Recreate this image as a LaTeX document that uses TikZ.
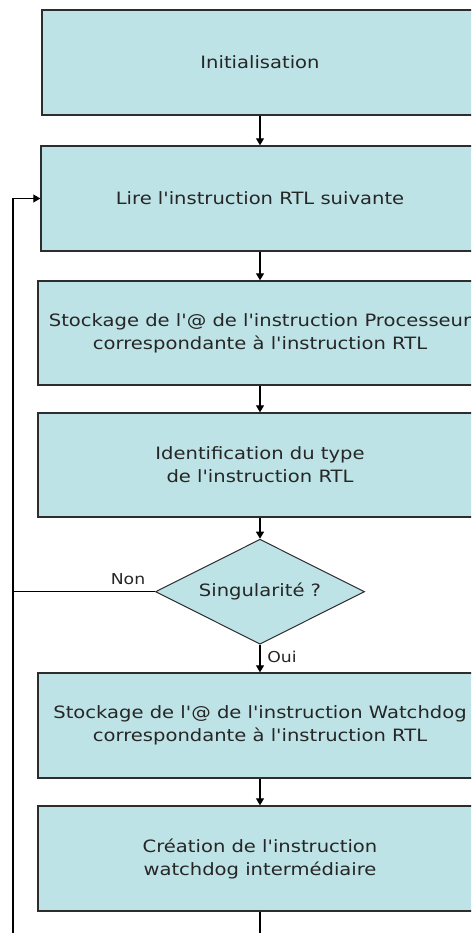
\documentclass[tikz,border=0pt]{standalone}
\usepackage{fontspec}
\setmainfont{DejaVu Sans}[FakeStretch=1.15,Ligatures=TeXOff]
\usetikzlibrary{shapes.geometric,arrows.meta}
\definecolor{boxfill}{RGB}{190,227,230}
\definecolor{boxline}{RGB}{45,45,45}
\begin{document}
\begin{tikzpicture}[x=1pt,y=-1pt,
  font=\fontsize{17}{23}\selectfont,
  stepbox/.style={draw=boxline,line width=1.4pt,fill=boxfill,rectangle,
    minimum height=105pt,inner sep=0pt,align=center,text=black!85},
  decision/.style={draw=boxline,line width=1pt,fill=boxfill,diamond,aspect=2,
    minimum width=209pt,minimum height=105pt,inner sep=0pt,text=black!85},
  conn/.style={line width=1.2pt,draw=black},
  arr/.style={conn,-{Triangle[width=8pt,length=7pt]}},
  lbl/.style={font=\fontsize{15}{18}\selectfont,text=black!85,inner sep=0pt}]
\useasboundingbox (0,0) rectangle (471,933);
\fill[white] (0,0) rectangle (471,933);
\begin{scope}
\clip (0,0) rectangle (471,933);
\node[stepbox,minimum width=436pt] (b1) at (260,62.5) {Initialisation};
\node[stepbox,minimum width=438pt] (b2) at (260,198.5) {Lire l'instruction RTL suivante};
\node[stepbox,minimum width=444pt,minimum height=104pt] (b3) at (260,333) {Stockage de l'@ de l'instruction Processeur\\correspondante à l'instruction RTL};
\node[stepbox,minimum width=444pt,minimum height=104pt] (b4) at (260,465) {Identification du type\\de l'instruction RTL};
\node[decision] (d) at (260,591.7) {Singularité ?};
\node[stepbox,minimum width=444pt] (b5) at (260,725.5) {Stockage de l'@ de l'instruction Watchdog\\correspondante à l'instruction RTL};
\node[stepbox,minimum width=444pt] (b6) at (260,858.5) {Création de l'instruction\\watchdog intermédiaire};
\coordinate (lb) at (13,950);
\coordinate (bot) at (260,950);
\draw[arr] (b1.south) -- (b2.north);
\draw[arr] (b2.south) -- (b3.north);
\draw[arr] (b3.south) -- (b4.north);
\draw[arr] (b4.south) -- (d.north);
\draw[arr] (d.south) -- (b5.north);
\draw[arr] (b5.south) -- (b6.north);
\draw[conn] (b6.south) -- (bot);
\draw[arr] (lb) |- (b2.west);
\draw[conn] (d.west) -- (d.west -| lb);
\node[lbl] (non) at (128,579) {Non};
\node[lbl] (oui) at (282,657) {Oui};
\end{scope}
\end{tikzpicture}
\end{document}
